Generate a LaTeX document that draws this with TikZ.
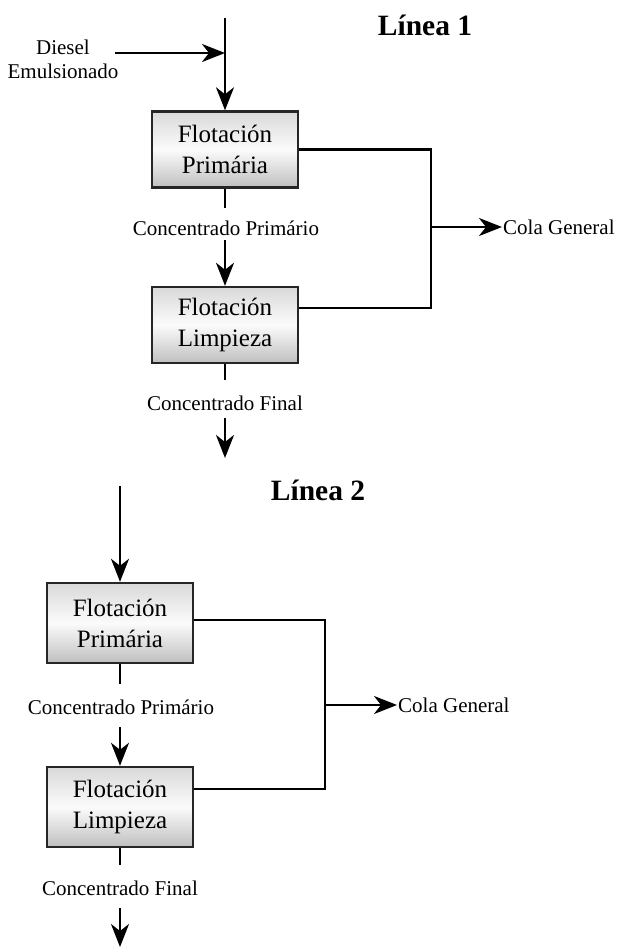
\documentclass[tikz,border=0pt]{standalone}
\usepackage{fontspec}
\setmainfont{Liberation Serif}
\usetikzlibrary{arrows.meta,positioning}
\begin{document}
\begin{tikzpicture}[x=1pt,y=-1pt,
  line width=2.4pt,
  proc/.style={draw=black!85,line width=2.4pt,rectangle,minimum width=146pt,inner sep=0pt,
    top color=gray!30,bottom color=gray!50,middle color=white!97!gray,
    font=\fontsize{25}{31}\selectfont,align=center},
  lbl/.style={font=\fontsize{21}{24}\selectfont,inner sep=0pt},
  ttl/.style={font=\fontsize{29.5}{32}\selectfont\bfseries,inner sep=0pt},
  arr/.style={-{Stealth[length=23pt,width=18pt,inset=7pt]}},
  ln/.style={line width=2.4pt}]
\useasboundingbox (0,0) rectangle (621,948);

% ---------- Linea 1 ----------
\node[ttl] (t1) at (425,25) {Línea 1};
\node[proc,minimum height=76pt] (p1) at (225,149.5) {Flotación\\Primária};
\node[proc,minimum height=76pt] (l1) at (225,325) {Flotación\\Limpieza};
\node[lbl,align=center] (d1) at (63,59) {Diesel\\Emulsionado};
\node[lbl] (cp1) at (226,228) {Concentrado Primário};
\node[lbl] (cf1) at (225,403) {Concentrado Final};
\node[lbl,anchor=west] (cg1) at (502,227) {Cola General};

\coordinate (in1) at (225,18);
\coordinate (ds1) at (115,53);
\coordinate (dj1) at (225,53);
\coordinate (s1a) at (225,208);
\coordinate (a1a) at (225,240);
\coordinate (s1b) at (225,380);
\coordinate (a1b) at (225,418);
\coordinate (e1b) at (225,458);
\coordinate (j1a) at (431,149.5);
\coordinate (j1b) at (431,308);
\coordinate (j1c) at (431,227);

\draw[arr] (in1) -- (p1.north);
\draw[arr] (ds1) -- (dj1);
\draw[ln] (p1.south) -- (s1a);
\draw[arr] (a1a) -- (l1.north);
\draw[ln] (l1.south) -- (s1b);
\draw[arr] (a1b) -- (e1b);
\draw[ln] (p1.east) -- (j1a) -- (j1b) -- ([yshift=17pt]l1.east);
\draw[arr] (j1c) -- (cg1.west);

% ---------- Linea 2 ----------
\node[ttl] (t2) at (318,490) {Línea 2};
\node[proc,minimum height=80pt] (p2) at (120,623) {Flotación\\Primária};
\node[proc,minimum height=80pt] (l2) at (120,807) {Flotación\\Limpieza};
\node[lbl] (cp2) at (121,707) {Concentrado Primário};
\node[lbl] (cf2) at (120,888) {Concentrado Final};
\node[lbl,anchor=west] (cg2) at (397,705) {Cola General};

\coordinate (in2) at (120,486);
\coordinate (s2a) at (120,684);
\coordinate (a2a) at (120,727);
\coordinate (s2b) at (120,865);
\coordinate (a2b) at (120,908);
\coordinate (e2b) at (120,947);
\coordinate (j2a) at (325,620);
\coordinate (j2b) at (325,789);
\coordinate (j2c) at (325,705);

\draw[arr] (in2) -- (p2.north);
\draw[ln] (p2.south) -- (s2a);
\draw[arr] (a2a) -- (l2.north);
\draw[ln] (l2.south) -- (s2b);
\draw[arr] (a2b) -- (e2b);
\draw[ln] ([yshift=3pt]p2.east) -- (j2a) -- (j2b) -- ([yshift=18pt]l2.east);
\draw[arr] (j2c) -- (cg2.west);
\end{tikzpicture}
\end{document}
